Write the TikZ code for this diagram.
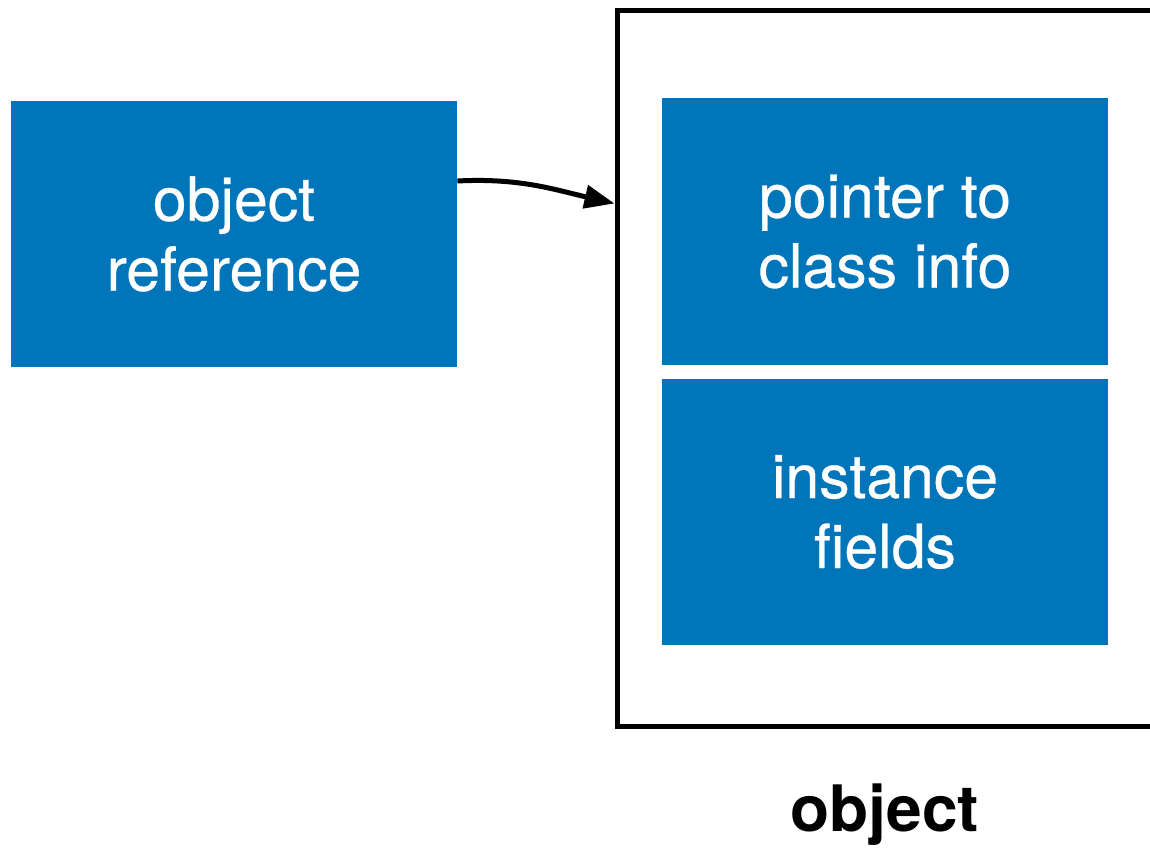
\documentclass[tikz,border=0pt]{standalone}
\usepackage{fontspec}
\setmainfont{TeX Gyre Heros}
\usetikzlibrary{arrows.meta,calc}
\definecolor{boxblue}{RGB}{0,117,185}
\begin{document}
\begin{tikzpicture}[x=0.5pt,y=-0.5pt,
  bluebox/.style={fill=boxblue, draw=none, inner sep=0pt,
    minimum width=223pt, minimum height=133pt, text=white, align=center,
    font=\fontsize{30.4pt}{35pt}\selectfont\addfontfeature{FakeBold=0.5}},
  framebox/.style={draw=black, line width=2.5pt, inner sep=0pt, outer sep=auto,
    minimum width=300pt, minimum height=357.5pt},
  arr/.style={line width=2.5pt, -{Triangle[length=15pt,width=11.5pt]}},
  caption/.style={font=\fontsize{32pt}{35pt}\selectfont\bfseries}]
  \useasboundingbox (0,0) rectangle (1150,850);
  \clip (0,0) rectangle (1150,850);
  % object in memory: header and fields inside a frame
  \node[framebox, anchor=north west] (frame) at (614.5,8.5) {};
  \node[bluebox] (header) at (885,231.5) {pointer to\\class info};
  \node[bluebox] (fields) at (885,512) {instance\\fields};
  \node[caption] (label) at (885,815) {object};
  % the reference pointing at the object
  \node[bluebox] (ref) at (234,234) {object\\reference};
  \draw[arr] ([yshift=26.5pt]ref.east) to[out=3,in=167] ([yshift=82.5pt]frame.west);
\end{tikzpicture}
\end{document}
